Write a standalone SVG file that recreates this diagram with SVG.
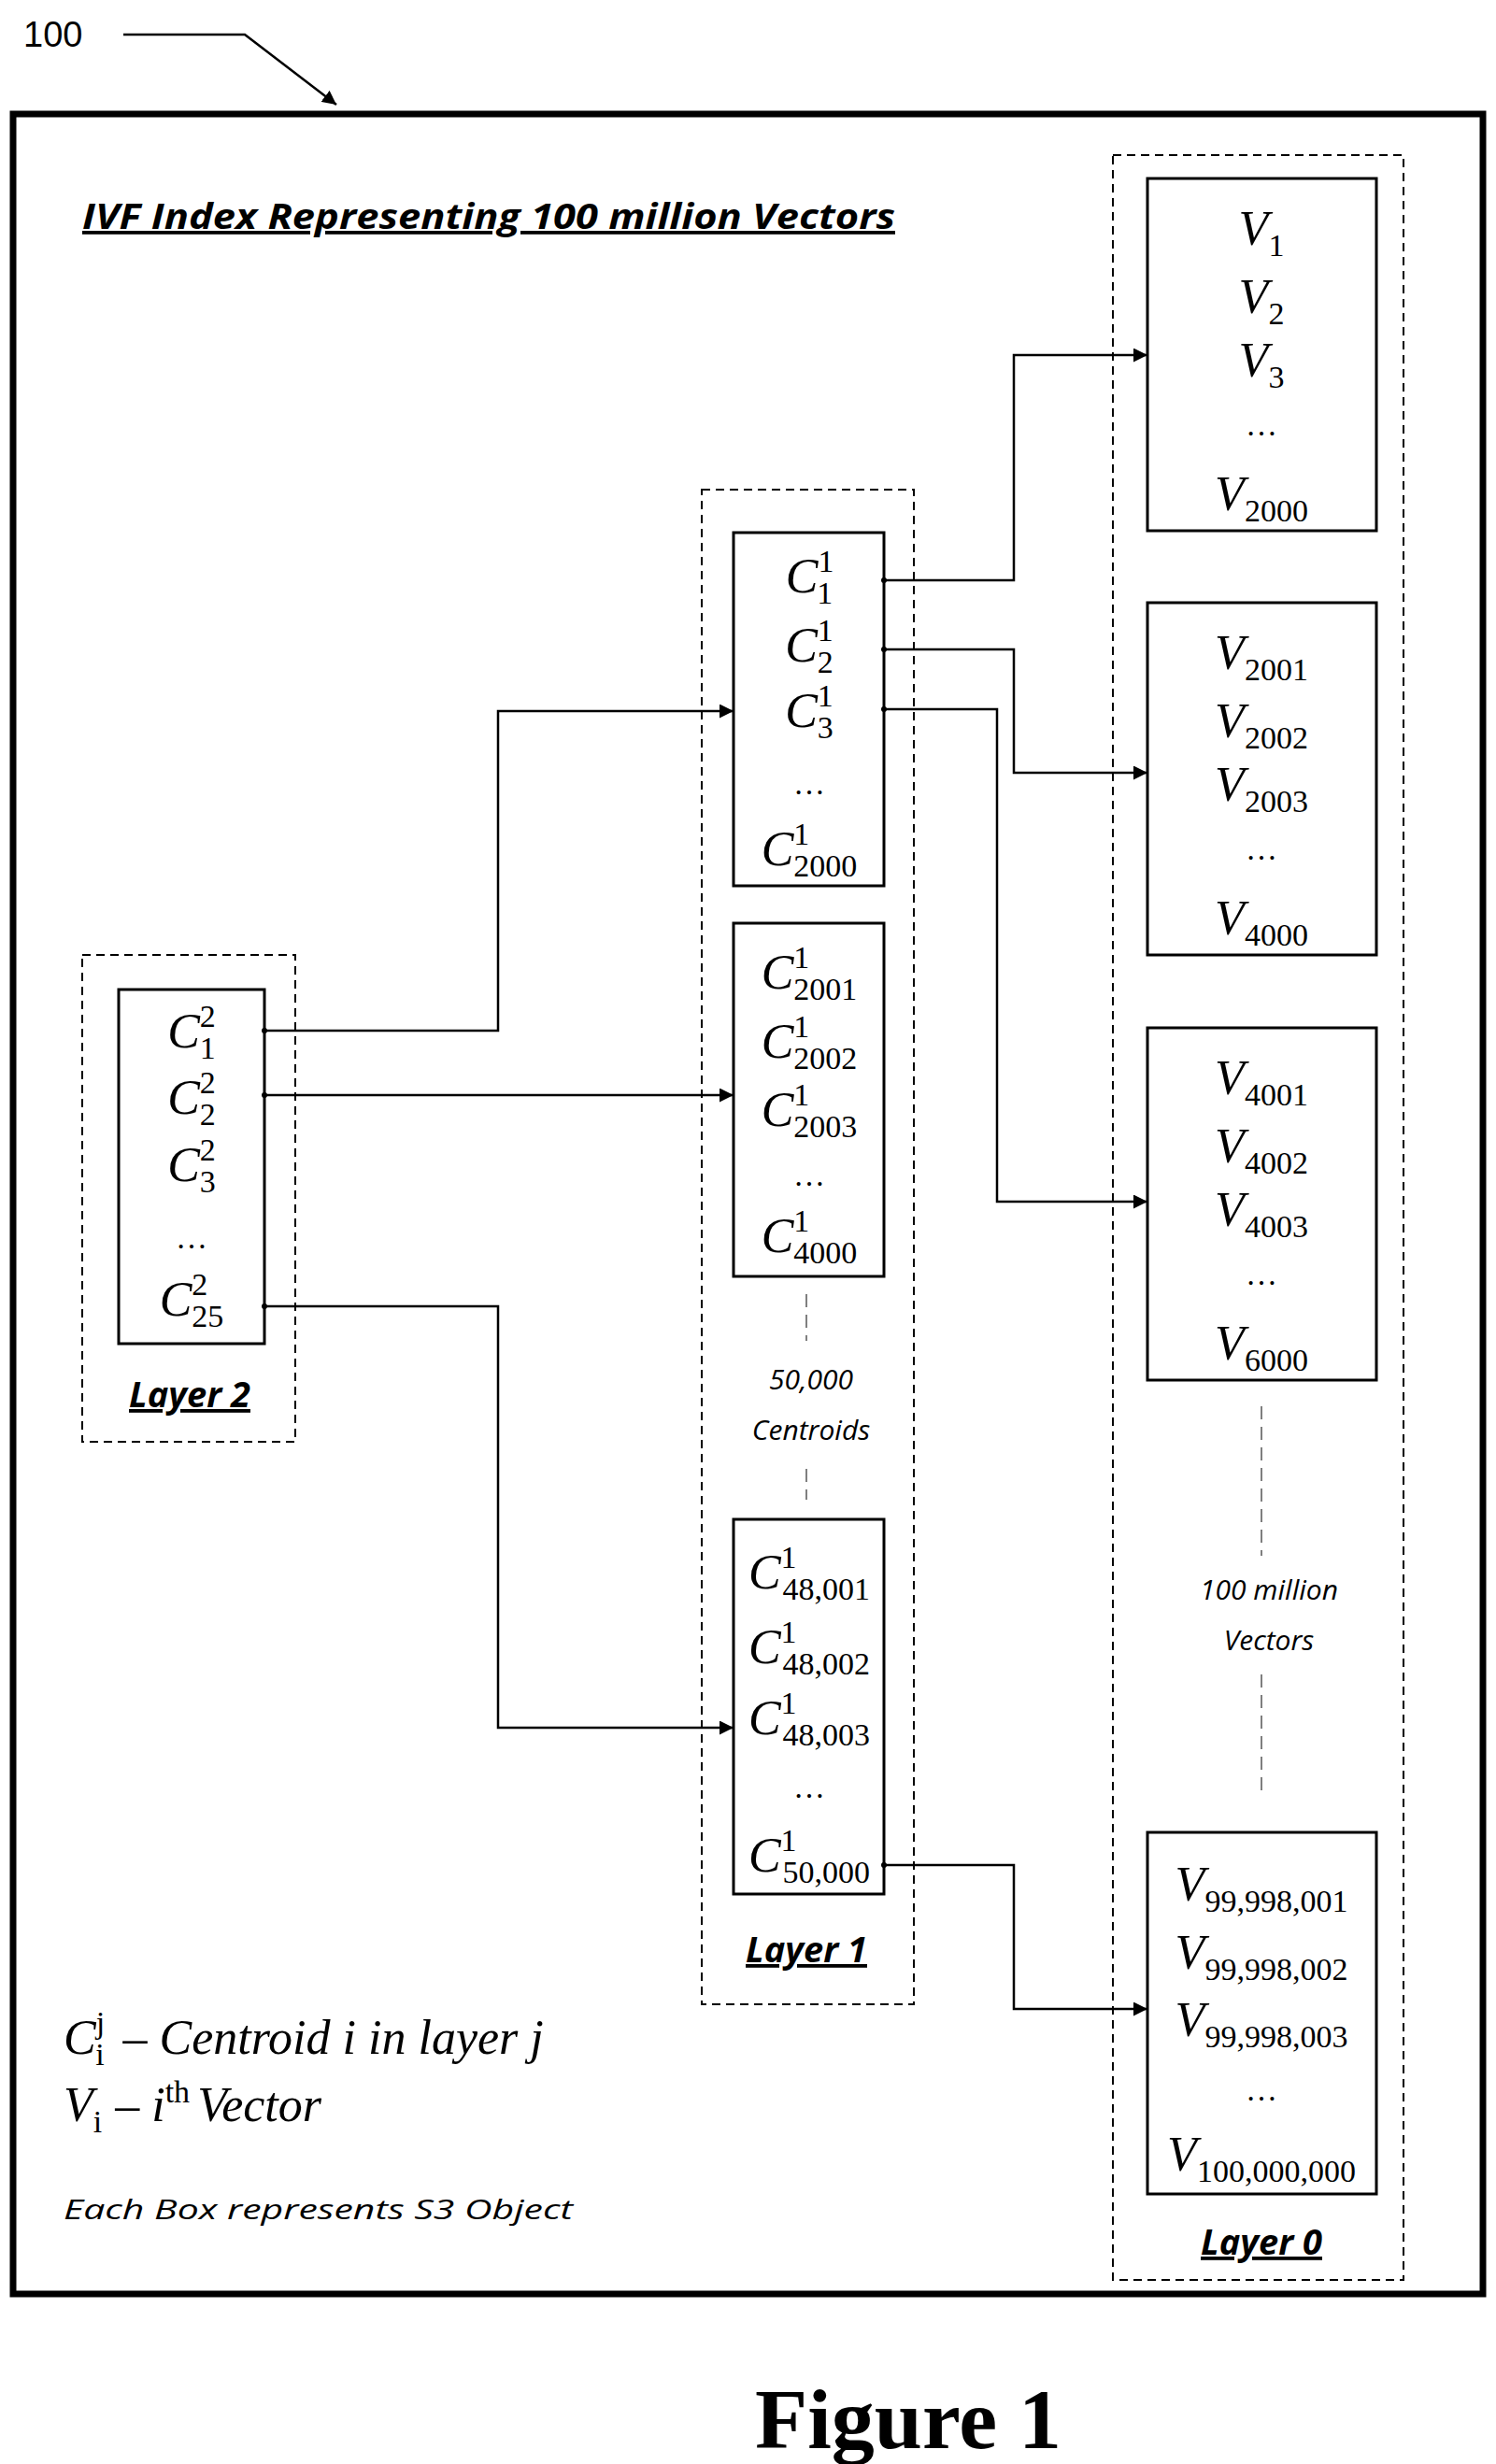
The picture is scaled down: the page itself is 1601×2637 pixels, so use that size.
<svg xmlns="http://www.w3.org/2000/svg" width="1601" height="2637" viewBox="0 0 1601 2637">
<style>
.box{fill:#fff;stroke:#000;stroke-width:3}
.dash{fill:none;stroke:#000;stroke-width:2;stroke-dasharray:9,6}
.thin{stroke:#555;stroke-width:1.5;stroke-dasharray:14,8}
.c{fill:none;stroke:#000;stroke-width:2.5}
.m{font-family:"Liberation Serif",serif;font-style:italic;font-size:52px;fill:#000}
.s{font-family:"Liberation Serif",serif;font-style:normal;font-size:34px}
.lab{font-family:"Open Sans","Liberation Sans",sans-serif;font-style:italic;font-weight:bold;font-size:38px;text-decoration:underline;fill:#000}
.it{font-family:"Open Sans","Liberation Sans",sans-serif;font-style:italic;font-size:30px;fill:#000}
</style>
<defs>
<marker id="a" viewBox="0 0 10 10" refX="10" refY="5" markerWidth="6" markerHeight="6" orient="auto"><path d="M0,0L10,5L0,10z" fill="#000"/></marker>
<marker id="d" viewBox="0 0 10 10" refX="5" refY="5" markerWidth="3" markerHeight="3"><circle cx="5" cy="5" r="4" fill="#000"/></marker>
</defs>
<rect width="1601" height="2637" fill="#fff"/>
<text x="25" y="50" font-family="Liberation Sans,sans-serif" font-size="38">100</text>
<path d="M132,37H262L360,112" class="c" marker-end="url(#a)"/>
<rect x="14" y="122" width="1573" height="2333" fill="none" stroke="#000" stroke-width="7"/>
<text x="88" y="245" class="lab" font-size="46" textLength="870" lengthAdjust="spacingAndGlyphs">IVF Index Representing 100 million Vectors</text>

<g id="layer0">
<rect x="1191" y="166" width="311" height="2274" class="dash"/>
<text x="1350" y="2413" class="lab" text-anchor="middle">Layer 0</text>
<line x1="1350" y1="1505" x2="1350" y2="1665" class="thin"/>
<line x1="1350" y1="1792" x2="1350" y2="1923" class="thin"/>
<text x="1358" y="1712" class="it" text-anchor="middle">100 million</text>
<text x="1358" y="1766" class="it" text-anchor="middle">Vectors</text>
</g>
<g id="v1">
<rect x="1228" y="191" width="245" height="377" class="box"/>
<text class="m" text-anchor="middle"><tspan x="1350" y="262">V<tspan class="s" dy="12">1</tspan></tspan><tspan x="1350" y="335">V<tspan class="s" dy="12">2</tspan></tspan><tspan x="1350" y="403">V<tspan class="s" dy="12">3</tspan></tspan><tspan x="1350" y="466" class="s">…</tspan><tspan x="1350" y="546">V<tspan class="s" dy="12">2000</tspan></tspan></text>
</g>
<g id="v2">
<rect x="1228" y="645" width="245" height="377" class="box"/>
<text class="m" text-anchor="middle"><tspan x="1350" y="716">V<tspan class="s" dy="12">2001</tspan></tspan><tspan x="1350" y="789">V<tspan class="s" dy="12">2002</tspan></tspan><tspan x="1350" y="857">V<tspan class="s" dy="12">2003</tspan></tspan><tspan x="1350" y="920" class="s">…</tspan><tspan x="1350" y="1000">V<tspan class="s" dy="12">4000</tspan></tspan></text>
</g>
<g id="v3">
<rect x="1228" y="1100" width="245" height="377" class="box"/>
<text class="m" text-anchor="middle"><tspan x="1350" y="1171">V<tspan class="s" dy="12">4001</tspan></tspan><tspan x="1350" y="1244">V<tspan class="s" dy="12">4002</tspan></tspan><tspan x="1350" y="1312">V<tspan class="s" dy="12">4003</tspan></tspan><tspan x="1350" y="1375" class="s">…</tspan><tspan x="1350" y="1455">V<tspan class="s" dy="12">6000</tspan></tspan></text>
</g>
<g id="v4">
<rect x="1228" y="1961" width="245" height="387" class="box"/>
<text class="m" text-anchor="middle" font-size="48"><tspan x="1350" y="2034">V<tspan class="s" font-size="30" dy="12">99,998,001</tspan></tspan><tspan x="1350" y="2107">V<tspan class="s" font-size="30" dy="12">99,998,002</tspan></tspan><tspan x="1350" y="2179">V<tspan class="s" font-size="30" dy="12">99,998,003</tspan></tspan><tspan x="1350" y="2248" class="s">…</tspan><tspan x="1350" y="2323">V<tspan class="s" font-size="30" dy="12">100,000,000</tspan></tspan></text>
</g>

<g id="layer1">
<rect x="751" y="524" width="227" height="1621" class="dash"/>
<text x="863" y="2100" class="lab" text-anchor="middle">Layer 1</text>
<line x1="863" y1="1385" x2="863" y2="1435" class="thin"/>
<line x1="863" y1="1572" x2="863" y2="1605" class="thin"/>
<text x="868" y="1487" class="it" text-anchor="middle">50,000</text>
<text x="868" y="1541" class="it" text-anchor="middle">Centroids</text>
</g>
<g id="c1a">
<rect x="785" y="570" width="161" height="378" class="box"/>
<text class="m" text-anchor="middle"><tspan x="866" y="634">C<tspan class="s" dy="-22">1</tspan><tspan class="s" dx="-17" dy="34">1</tspan></tspan><tspan x="866" y="708">C<tspan class="s" dy="-22">1</tspan><tspan class="s" dx="-17" dy="34">2</tspan></tspan><tspan x="866" y="778">C<tspan class="s" dy="-22">1</tspan><tspan class="s" dx="-17" dy="34">3</tspan></tspan><tspan x="866" y="850" class="s">…</tspan><tspan x="866" y="926">C<tspan class="s" dy="-22">1</tspan><tspan class="s" dx="-17" dy="34">2000</tspan></tspan></text>
</g>
<g id="c1b">
<rect x="785" y="988" width="161" height="378" class="box"/>
<text class="m" text-anchor="middle"><tspan x="866" y="1058">C<tspan class="s" dy="-22">1</tspan><tspan class="s" dx="-17" dy="34">2001</tspan></tspan><tspan x="866" y="1132">C<tspan class="s" dy="-22">1</tspan><tspan class="s" dx="-17" dy="34">2002</tspan></tspan><tspan x="866" y="1205">C<tspan class="s" dy="-22">1</tspan><tspan class="s" dx="-17" dy="34">2003</tspan></tspan><tspan x="866" y="1269" class="s">…</tspan><tspan x="866" y="1340">C<tspan class="s" dy="-22">1</tspan><tspan class="s" dx="-17" dy="34">4000</tspan></tspan></text>
</g>
<g id="c1c">
<rect x="785" y="1626" width="161" height="401" class="box"/>
<text class="m" text-anchor="middle" font-size="48"><tspan x="866" y="1700">C<tspan class="s" font-size="30" dy="-22">1</tspan><tspan class="s" font-size="30" dx="-15" dy="34">48,001</tspan></tspan><tspan x="866" y="1780">C<tspan class="s" font-size="30" dy="-22">1</tspan><tspan class="s" font-size="30" dx="-15" dy="34">48,002</tspan></tspan><tspan x="866" y="1856">C<tspan class="s" font-size="30" dy="-22">1</tspan><tspan class="s" font-size="30" dx="-15" dy="34">48,003</tspan></tspan><tspan x="866" y="1924" class="s">…</tspan><tspan x="866" y="2003">C<tspan class="s" font-size="30" dy="-22">1</tspan><tspan class="s" font-size="30" dx="-15" dy="34">50,000</tspan></tspan></text>
</g>

<g id="layer2">
<rect x="88" y="1022" width="228" height="521" class="dash"/>
<rect x="127" y="1059" width="156" height="379" class="box"/>
<text class="m" text-anchor="middle"><tspan x="205" y="1121">C<tspan class="s" dy="-22">2</tspan><tspan class="s" dx="-17" dy="34">1</tspan></tspan><tspan x="205" y="1192">C<tspan class="s" dy="-22">2</tspan><tspan class="s" dx="-17" dy="34">2</tspan></tspan><tspan x="205" y="1264">C<tspan class="s" dy="-22">2</tspan><tspan class="s" dx="-17" dy="34">3</tspan></tspan><tspan x="205" y="1336" class="s">…</tspan><tspan x="205" y="1408">C<tspan class="s" dy="-22">2</tspan><tspan class="s" dx="-17" dy="34">25</tspan></tspan></text>
<text x="203" y="1506" class="lab" text-anchor="middle">Layer 2</text>
</g>

<g id="connectors">
<path d="M283,1103H533V761H785" class="c" marker-start="url(#d)" marker-end="url(#a)"/>
<path d="M283,1172H785" class="c" marker-start="url(#d)" marker-end="url(#a)"/>
<path d="M283,1398H533V1849H785" class="c" marker-start="url(#d)" marker-end="url(#a)"/>
<path d="M946,621H1085V380H1228" class="c" marker-start="url(#d)" marker-end="url(#a)"/>
<path d="M946,695H1085V827H1228" class="c" marker-start="url(#d)" marker-end="url(#a)"/>
<path d="M946,759H1067V1286H1228" class="c" marker-start="url(#d)" marker-end="url(#a)"/>
<path d="M946,1996H1085V2150H1228" class="c" marker-start="url(#d)" marker-end="url(#a)"/>
</g>

<g id="legend">
<text class="m" x="68" y="2198">C<tspan class="s" dy="-22">j</tspan><tspan class="s" dx="-10" dy="34">i</tspan><tspan dx="20" dy="-12">– Centroid i in layer j</tspan></text>
<text class="m" x="68" y="2270">V<tspan class="s" dy="12">i</tspan><tspan dx="14" dy="-12">– i</tspan><tspan class="s" dy="-20">th</tspan><tspan dx="8" dy="20">Vector</tspan></text>
<text class="it" x="68" y="2375" font-size="38" textLength="545" lengthAdjust="spacingAndGlyphs">Each Box represents S3 Object</text>
</g>
<text x="972" y="2620" text-anchor="middle" font-family="Liberation Serif,serif" font-weight="bold" font-size="92">Figure 1</text>
</svg>
